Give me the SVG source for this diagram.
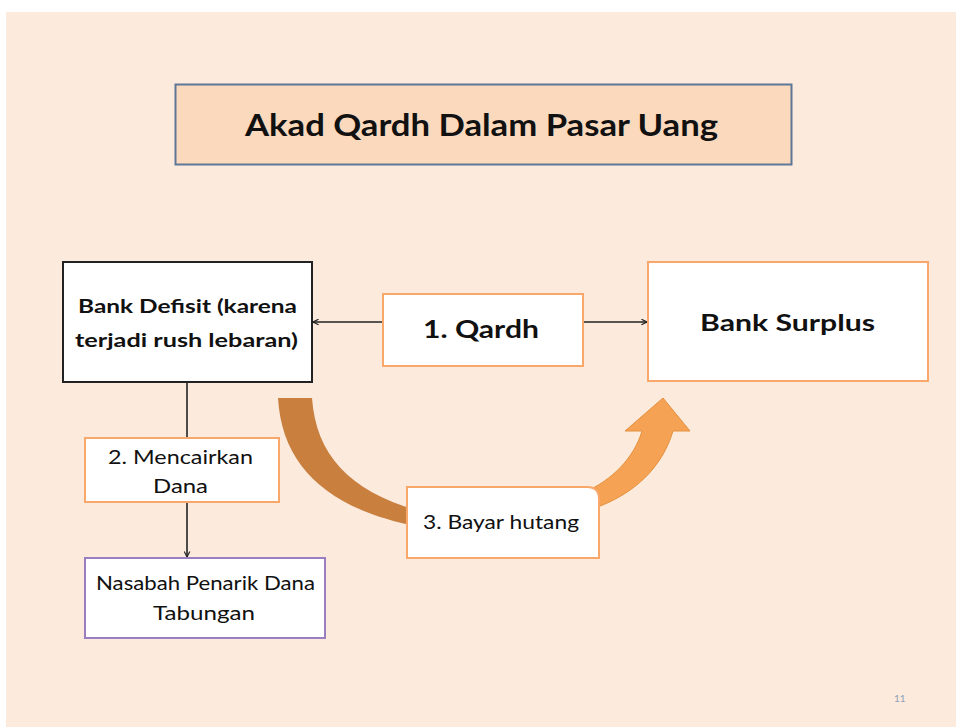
<svg xmlns="http://www.w3.org/2000/svg" width="956" height="727" viewBox="0 0 956 727">
<defs>
<style>
.t{font-family:Lato,"Liberation Sans",sans-serif;fill:#111;}
.b{font-weight:bold;}
.box{fill:#fff;}
.org{stroke:#F9A76A;stroke-width:2;}
.ln{stroke:#222;stroke-width:1.6;fill:none;}
</style>
<marker id="ah" viewBox="0 0 10 10" refX="9" refY="5" markerWidth="7" markerHeight="7" markerUnits="userSpaceOnUse" orient="auto">
<path d="M1,1 L9,5 L1,9" fill="none" stroke="#222" stroke-width="1.6"/>
</marker>
</defs>
<rect x="0" y="0" width="956" height="727" fill="#fff"/>
<rect x="6" y="12" width="950" height="715" fill="#FCEADC"/>

<g id="title">
<rect x="175.5" y="84.5" width="616" height="80" fill="#FBD9BD" stroke="#5E7797" stroke-width="2"/>
<text class="t b" x="245" y="136" font-size="31" textLength="473" lengthAdjust="spacingAndGlyphs">Akad Qardh Dalam Pasar Uang</text>
</g>

<g id="curved-arrow">
<path d="M278,398 L312,398 C316,455 350,492 420,511 L420,527 C330,510 282,468 278,398 Z" fill="#C97F3E"/>
<path d="M585,492 C612,480 634,458 642,431 L625,431 L663,398 L690,431 L673,431 C662,468 634,494 595,508 Z" fill="#F6A255" stroke="#E4913F" stroke-width="1"/>
</g>

<g id="connectors">
<line class="ln" x1="383" y1="322" x2="313" y2="322" marker-end="url(#ah)"/>
<line class="ln" x1="583" y1="322" x2="647" y2="322" marker-end="url(#ah)"/>
<line class="ln" x1="187" y1="382" x2="187" y2="438"/>
<line class="ln" x1="187" y1="502" x2="187" y2="557" marker-end="url(#ah)"/>
</g>

<g id="bank-defisit">
<rect class="box" x="63" y="262" width="249" height="120" stroke="#222" stroke-width="2"/>
<text class="t b" x="78" y="313" font-size="19" textLength="219" lengthAdjust="spacingAndGlyphs">Bank  Defisit (karena</text>
<text class="t b" x="75" y="347" font-size="19" textLength="223" lengthAdjust="spacingAndGlyphs">terjadi rush lebaran)</text>
</g>

<g id="qardh">
<rect class="box org" x="383" y="294" width="200" height="72"/>
<text class="t b" x="423" y="338" font-size="25" textLength="116" lengthAdjust="spacingAndGlyphs">1. Qardh</text>
</g>

<g id="bank-surplus">
<rect class="box org" x="648" y="262" width="280" height="119"/>
<text class="t b" x="700" y="331" font-size="22" textLength="175" lengthAdjust="spacingAndGlyphs">Bank Surplus</text>
</g>

<g id="mencairkan">
<rect class="box org" x="85" y="438" width="194" height="64"/>
<text class="t" x="108" y="464" font-size="18.5" textLength="145" lengthAdjust="spacingAndGlyphs">2. Mencairkan</text>
<text class="t" x="153" y="493" font-size="18.5" textLength="55" lengthAdjust="spacingAndGlyphs">Dana</text>
</g>

<g id="nasabah">
<rect class="box" x="85" y="558" width="240" height="80" stroke="#9B7EC0" stroke-width="2"/>
<text class="t" x="96" y="590" font-size="18.5" textLength="219" lengthAdjust="spacingAndGlyphs">Nasabah Penarik Dana</text>
<text class="t" x="153" y="620" font-size="18.5" textLength="102" lengthAdjust="spacingAndGlyphs">Tabungan</text>
</g>

<g id="bayar-hutang">
<path class="box org" d="M407,487 L587,487 Q599,487 599,499 L599,558 L407,558 Z"/>
<text class="t" x="423" y="529" font-size="18.5" textLength="156" lengthAdjust="spacingAndGlyphs">3. Bayar hutang</text>
</g>

<text x="894" y="702" font-family="Lato,'Liberation Sans',sans-serif" font-size="10" fill="#8FA1B8">11</text>
</svg>
